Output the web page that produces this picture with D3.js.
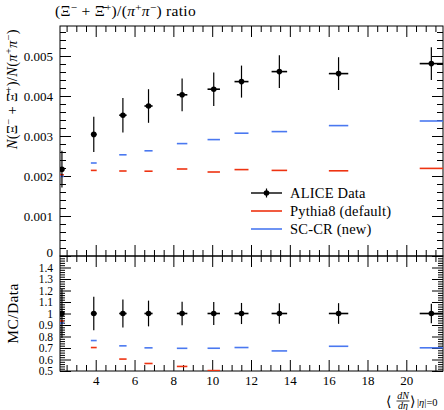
<!DOCTYPE html>
<html><head><meta charset="utf-8">
<script src="https://cdn.jsdelivr.net/npm/d3@7"></script>
<style>
body{margin:0;background:#fff;}
svg{display:block;font-family:"Liberation Serif","DejaVu Serif",serif;}
</style></head>
<body>
<script>
// ---- data ----
const xVals   = [2.26, 3.90, 5.40, 6.72, 8.45, 10.08, 11.51, 13.46, 16.51, 21.29];
const xErr    = [0.10, 0.15, 0.19, 0.21, 0.27, 0.32, 0.36, 0.40, 0.50, 0.60];
const dataVals = [0.00217, 0.00304, 0.00352, 0.00375, 0.00403, 0.00417, 0.00436, 0.00461, 0.00456, 0.00481];
const dataErr  = [0.00046, 0.00044, 0.00043, 0.00042, 0.00041, 0.00042, 0.00040, 0.00041, 0.00041, 0.00041];
const pythiaVals = [0.00203, 0.00214, 0.002125, 0.00212, 0.002175, 0.00210, 0.00216, 0.00214, 0.00213, 0.00219];
const sccrVals   = [0.00199, 0.002325, 0.00253, 0.00263, 0.00281, 0.00291, 0.00307, 0.00311, 0.00326, 0.003375];
const mainTicks = [0, 0.001, 0.002, 0.003, 0.004, 0.005];
const mainTickLabels = ["0", "0.001", "0.002", "0.003", "0.004", "0.005"];
const ratioTicks = [0.5, 0.6, 0.7, 0.8, 0.9, 1.0, 1.1, 1.2, 1.3, 1.4];
const ratioTickLabels = ["0.5", "0.6", "0.7", "0.8", "0.9", "1", "1.1", "1.2", "1.3", "1.4"];
const xTicks = [4, 6, 8, 10, 12, 14, 16, 18, 20];
const legendLabels = ["ALICE Data", "Pythia8 (default)", "SC-CR (new)"];
const colors = {data: "#000", pythia: "#ee3311", sccr: "#4a78f0"};

// ---- layout ----
const W = 444, H = 410;
const L = 60, R = 443, mTop = 26, mBot = 256, rBot = 371;
const svg = d3.select("body").append("svg").attr("width", W).attr("height", H);

const x = d3.scaleLinear().domain([2.16, 21.89]).range([L, R]);
const yM = d3.scaleLinear().domain([0, 0.00575]).range([mBot, mTop]);
const yR = d3.scaleLinear().domain([0.5, 1.5]).range([rBot, mBot]);

const defs = svg.append("defs");
defs.append("clipPath").attr("id", "cm").append("rect").attr("x", L).attr("y", mTop).attr("width", R - L).attr("height", mBot - mTop);
defs.append("clipPath").attr("id", "cr").append("rect").attr("x", L).attr("y", mBot).attr("width", R - L).attr("height", rBot - mBot);

function axisStyle(size) {
  return g => {
    g.select(".domain").remove();
    g.selectAll(".tick line").attr("stroke", "#000").attr("stroke-width", 1);
    g.selectAll(".tick text").attr("font-size", size || 13).attr("font-family", "Liberation Serif, serif").attr("fill", "#000");
  };
}
function range(a, b, s) { const r = []; for (let v = a; v <= b + 1e-12; v += s) r.push(+v.toFixed(6)); return r; }

// x ticks (minor every 0.5, major every 2)
const xMinor = range(2.5, 21.5, 0.5).filter(v => !xTicks.includes(v));
[[mTop, d3.axisBottom], [mBot, d3.axisTop], [mBot, d3.axisBottom], [rBot, d3.axisTop]].forEach(([yy, ax]) => {
  svg.append("g").attr("transform", `translate(0,${yy})`).call(ax(x).tickValues(xTicks).tickSize(11).tickFormat("")).call(axisStyle());
  svg.append("g").attr("transform", `translate(0,${yy})`).call(ax(x).tickValues(xMinor).tickSize(6).tickFormat("")).call(axisStyle());
});
// x labels
svg.append("g").attr("transform", `translate(0,${rBot})`)
  .call(d3.axisBottom(x).tickValues(xTicks).tickSize(0).tickPadding(5).tickFormat(d => d)).call(axisStyle(13));

// main y ticks
const mMinor = range(0, 0.0056, 0.0002).filter(v => !mainTicks.some(t => Math.abs(t - v) < 1e-9));
const yMainAx = svg.append("g").attr("transform", `translate(${L},0)`)
  .call(d3.axisLeft(yM).tickValues(mainTicks).tickSize(-11).tickPadding(7).tickFormat((d, i) => mainTickLabels[i])).call(axisStyle(13));
yMainAx.selectAll(".tick text").filter(d => d === 0).attr("dy", "0.05em");
svg.append("g").attr("transform", `translate(${L},0)`)
  .call(d3.axisLeft(yM).tickValues(mMinor).tickSize(-6).tickFormat("")).call(axisStyle());
svg.append("g").attr("transform", `translate(${R},0)`)
  .call(d3.axisRight(yM).tickValues(mainTicks).tickSize(-11).tickFormat("")).call(axisStyle());
svg.append("g").attr("transform", `translate(${R},0)`)
  .call(d3.axisRight(yM).tickValues(mMinor).tickSize(-6).tickFormat("")).call(axisStyle());

// ratio y ticks
const rMinor = range(0.5, 1.5, 0.02).filter(v => !ratioTicks.some(t => Math.abs(t - v) < 1e-9) && v > 0.5 && v < 1.5);
svg.append("g").attr("transform", `translate(${L},0)`)
  .call(d3.axisLeft(yR).tickValues(ratioTicks).tickSize(-11).tickPadding(7).tickFormat((d, i) => ratioTickLabels[i])).call(axisStyle(11.5));
svg.append("g").attr("transform", `translate(${L},0)`)
  .call(d3.axisLeft(yR).tickValues(rMinor).tickSize(-5).tickFormat("")).call(axisStyle());
svg.append("g").attr("transform", `translate(${R},0)`)
  .call(d3.axisRight(yR).tickValues(ratioTicks).tickSize(-11).tickFormat("")).call(axisStyle());
svg.append("g").attr("transform", `translate(${R},0)`)
  .call(d3.axisRight(yR).tickValues(rMinor).tickSize(-5).tickFormat("")).call(axisStyle());

// frames
svg.append("rect").attr("x", L).attr("y", mTop).attr("width", R - L).attr("height", mBot - mTop).attr("fill", "none").attr("stroke", "#000");
svg.append("rect").attr("x", L).attr("y", mBot).attr("width", R - L).attr("height", rBot - mBot).attr("fill", "none").attr("stroke", "#000");

// ---- MC lines ----
const idx = d3.range(xVals.length);
function mcSegs(g, yScale, vals, color) {
  g.selectAll(null).data(idx.filter(i => !isNaN(vals[i]))).enter().append("line")
    .attr("x1", i => x(xVals[i] - xErr[i])).attr("x2", i => x(xVals[i] + xErr[i]))
    .attr("y1", i => yScale(vals[i])).attr("y2", i => yScale(vals[i]))
    .attr("stroke", color).attr("stroke-width", 1.6);
}
const gM = svg.append("g").attr("clip-path", "url(#cm)");
const gR = svg.append("g").attr("clip-path", "url(#cr)");
mcSegs(gM, yM, pythiaVals, colors.pythia);
mcSegs(gM, yM, sccrVals, colors.sccr);
const pyRatio = idx.map(i => pythiaVals[i] / dataVals[i]);
const scRatio = idx.map(i => sccrVals[i] / dataVals[i]);
mcSegs(gR, yR, pyRatio.map(v => v < 0.5 ? NaN : v), colors.pythia);
mcSegs(gR, yR, scRatio, colors.sccr);

// ---- data ----
function dataPts(g, yScale, vals, errs) {
  const p = g.selectAll(null).data(idx).enter().append("g");
  p.append("line").attr("x1", i => x(xVals[i])).attr("x2", i => x(xVals[i]))
    .attr("y1", i => yScale(vals[i] - errs[i])).attr("y2", i => yScale(vals[i] + errs[i]))
    .attr("stroke", "#000").attr("stroke-width", 1.2);
  p.append("line").attr("x1", i => x(xVals[i] - xErr[i])).attr("x2", i => x(xVals[i] + xErr[i]))
    .attr("y1", i => yScale(vals[i])).attr("y2", i => yScale(vals[i]))
    .attr("stroke", "#000").attr("stroke-width", 1.6);
  p.append("circle").attr("cx", i => x(xVals[i])).attr("cy", i => yScale(vals[i])).attr("r", 2.8).attr("fill", "#000");
}
dataPts(gM, yM, dataVals, dataErr);
dataPts(gR, yR, idx.map(() => 1), idx.map(i => dataErr[i] / dataVals[i]));

// ---- legend ----
const lg = svg.append("g");
const legY = [193, 211, 229];
const legC = [colors.data, colors.pythia, colors.sccr];
legendLabels.forEach((t, i) => {
  lg.append("line").attr("x1", 251).attr("x2", 282).attr("y1", legY[i]).attr("y2", legY[i]).attr("stroke", legC[i]).attr("stroke-width", i === 0 ? 1.4 : 1.6);
  lg.append("text").attr("x", 290).attr("y", legY[i] + 5).attr("font-size", 14.5).attr("letter-spacing", 0.2).text(t);
});
lg.append("circle").attr("cx", 266.5).attr("cy", legY[0]).attr("r", 2.8);
lg.append("line").attr("x1", 266.5).attr("x2", 266.5).attr("y1", legY[0] - 4.5).attr("y2", legY[0] + 4.5).attr("stroke", "#000").attr("stroke-width", 1.2);

// ---- rich text helper ----
function rich(sel, parts, size) {
  parts.forEach(p => {
    const ts = sel.append("tspan").text(p.t);
    if (p.it) ts.attr("font-style", "italic");
    if (p.sup) ts.attr("font-size", size * 0.72).attr("dy", -size * 0.33);
    if (p.down) ts.attr("dy", size * 0.33);
  });
}
// title
const title = svg.append("text").attr("x", 55).attr("y", 16).attr("font-size", 15.5).attr("letter-spacing", 0.3);
rich(title, [
  {t: "(Ξ"}, {t: "−", sup: true}, {t: " + Ξ\u0304", down: true}, {t: "+", sup: true},
  {t: ")/(", down: true}, {t: "π", it: true}, {t: "+", sup: true}, {t: "π", it: true, down: true}, {t: "−", sup: true},
  {t: ") ratio", down: true}
], 15.5);

// y label main
const yl = svg.append("text").attr("transform", "translate(17,29) rotate(-90)").attr("text-anchor", "end").attr("font-size", 14.5).attr("letter-spacing", 0.3);
rich(yl, [
  {t: "N", it: true}, {t: "(Ξ"}, {t: "−", sup: true}, {t: " + Ξ\u0304", down: true}, {t: "+", sup: true},
  {t: ")/", down: true}, {t: "N", it: true}, {t: "("}, {t: "π", it: true}, {t: "+", sup: true}, {t: "π", it: true, down: true}, {t: "−", sup: true},
  {t: ")", down: true}
], 14.5);

// y label ratio
svg.append("text").attr("transform", `translate(18,${yR(1)}) rotate(-90)`).attr("text-anchor", "middle").attr("font-size", 15.5).attr("letter-spacing", 0.4).text("MC/Data");

// x label
const xl = svg.append("g").attr("font-size", 10);
xl.append("text").attr("x", 386).attr("y", 406).attr("font-size", 14).attr("font-family", "DejaVu Serif, serif").text("⟨");
xl.append("text").attr("x", 403).attr("y", 399).attr("text-anchor", "middle").attr("font-style", "italic").text("dN");
xl.append("line").attr("x1", 396.5).attr("x2", 409.5).attr("y1", 401).attr("y2", 401).attr("stroke", "#000").attr("stroke-width", 0.8);
xl.append("text").attr("x", 403).attr("y", 408.5).attr("text-anchor", "middle").attr("font-style", "italic").text("dη");
xl.append("text").attr("x", 410).attr("y", 406).attr("font-size", 14).attr("font-family", "DejaVu Serif, serif").text("⟩");
const sub = xl.append("text").attr("x", 417).attr("y", 406).attr("font-size", 10.5);
rich(sub, [{t: "|"}, {t: "η", it: true}, {t: "|=0"}], 10.5);
</script>
</body></html>
